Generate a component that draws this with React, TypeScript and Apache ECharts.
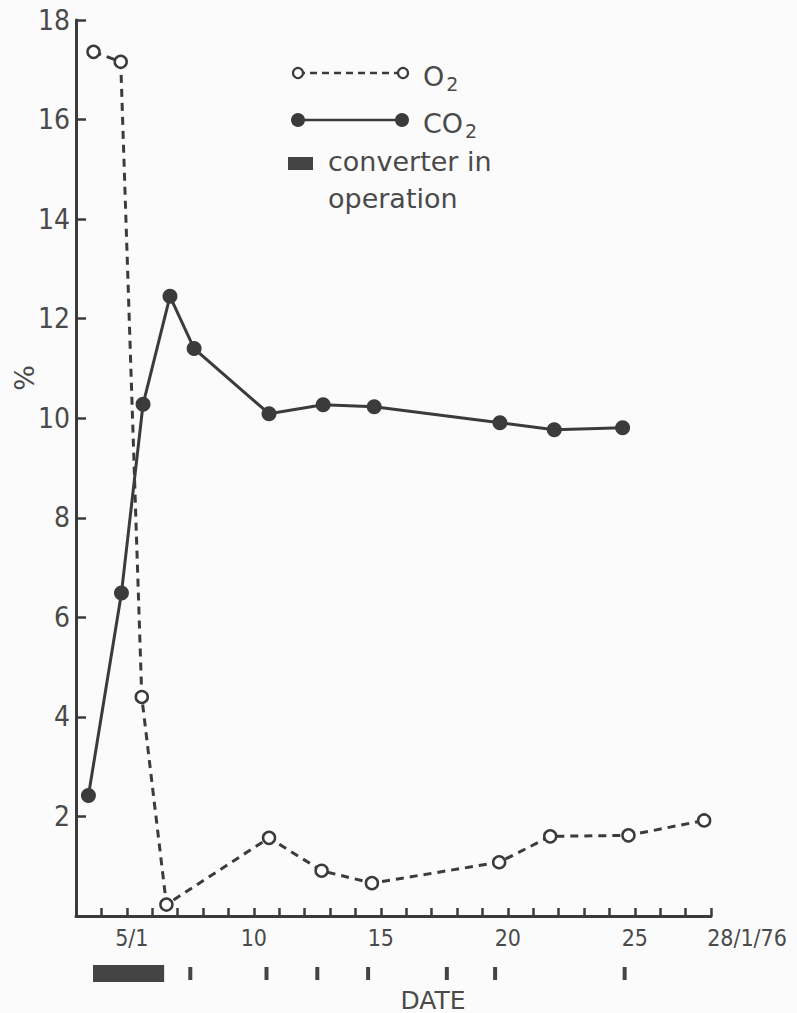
import React, { useEffect, useRef } from "react";
import * as echarts from "echarts";

// O2 (open circles, dashed)
const o2Days = [3.69, 4.76, 5.59, 6.56, 10.6, 12.67, 14.65, 19.66, 21.67, 24.75, 27.73];
const o2Values = [17.36, 17.16, 4.4, 0.23, 1.57, 0.91, 0.66, 1.08, 1.6, 1.62, 1.92];
// CO2 (filled circles, solid)
const co2Days = [3.49, 4.79, 5.64, 6.7, 7.65, 10.6, 12.73, 14.74, 19.69, 21.83, 24.52];
const co2Values = [2.42, 6.49, 10.28, 12.45, 11.4, 10.09, 10.27, 10.23, 9.91, 9.77, 9.81];
// converter in operation (start day, end day)
const converterPeriods = [[3.67, 6.47]];
// small marks below the date axis
const markDays = [7.5, 10.5, 12.5, 14.5, 17.6, 19.5, 24.6];
// tick labels
const xLabels: Record<number, string> = { 5: "5/1", 10: "10", 15: "15", 20: "20", 25: "25", 28: "28/1/76" };
const yTicks = [2, 4, 6, 8, 10, 12, 14, 16, 18];

const INK = "#3b3b3b";
const TXT = "#4a4a4a";
const NUMFONT = '"Liberation Sans Narrow", "DejaVu Sans Condensed", sans-serif';
const TXTFONT = '"DejaVu Sans", sans-serif';

export default function App() {
  const ref = useRef<HTMLDivElement>(null);
  useEffect(() => {
    if (!ref.current) return;
    const chart = echarts.init(ref.current, null, { renderer: "svg" });
    const o2Data = o2Days.map((d, i) => [d, o2Values[i]]);
    const co2Data = co2Days.map((d, i) => [d, co2Values[i]]);
    const option: any = {
      animation: false,
      backgroundColor: "#fbfbfb",
      grid: { left: 76, right: 86, top: 20, bottom: 97 },
      xAxis: {
        type: "value",
        min: 3,
        max: 28,
        interval: 1,
        splitLine: { show: false },
        axisLine: { lineStyle: { color: INK, width: 3 } },
        axisTick: { inside: true, length: 8, lineStyle: { color: INK, width: 2.5 } },
        axisLabel: {
          margin: 10,
          color: TXT,
          fontFamily: NUMFONT,
          fontSize: 23,
          showMinLabel: true,
          showMaxLabel: true,
          formatter: (v: number) => {
            const s = xLabels[Math.round(v)];
            if (!s || Math.abs(v - Math.round(v)) > 1e-6) return "";
            if (Math.round(v) === 28) return "{last|" + s + "}";
            if (Math.round(v) === 5) return "{first|" + s + "}";
            return s;
          },
          rich: {
            last: { fontFamily: NUMFONT, fontSize: 23, color: TXT, padding: [0, 0, 0, 72] },
            first: { fontFamily: NUMFONT, fontSize: 23, color: TXT, padding: [0, 0, 0, 10] },
          },
        },
      },
      yAxis: {
        type: "value",
        min: 0,
        max: 18,
        interval: 2,
        splitLine: { show: false },
        axisLine: { show: true, lineStyle: { color: INK, width: 3 } },
        axisTick: { show: true, inside: true, length: 10, lineStyle: { color: INK, width: 2.5 } },
        axisLabel: {
          margin: 6,
          color: TXT,
          fontFamily: NUMFONT,
          fontSize: 28,
          formatter: (v: number) => (yTicks.indexOf(v) >= 0 ? String(v) : ""),
        },
      },
      series: [
        {
          name: "O2",
          type: "line",
          data: o2Data,
          symbol: "circle",
          symbolSize: 12,
          itemStyle: { color: "#ffffff", borderColor: INK, borderWidth: 2.5 },
          lineStyle: { color: INK, width: 3, type: [8, 6] },
          z: 3,
        },
        {
          name: "CO2",
          type: "line",
          data: co2Data,
          symbol: "circle",
          symbolSize: 15,
          itemStyle: { color: INK, borderWidth: 0 },
          lineStyle: { color: INK, width: 3 },
          z: 4,
        },
        {
          name: "converter in operation",
          type: "custom",
          clip: false,
          data: converterPeriods,
          encode: { x: [0, 1] },
          renderItem: (params: any, api: any) => {
            const a = api.coord([api.value(0), 0]);
            const b = api.coord([api.value(1), 0]);
            return {
              type: "rect",
              shape: { x: a[0], y: a[1] + 49, width: b[0] - a[0], height: 17 },
              style: { fill: "#444444" },
            };
          },
        },
        {
          name: "marks",
          type: "custom",
          clip: false,
          data: markDays.map((d) => [d]),
          encode: { x: 0 },
          renderItem: (params: any, api: any) => {
            const a = api.coord([api.value(0), 0]);
            return {
              type: "rect",
              shape: { x: a[0] - 2, y: a[1] + 51, width: 4, height: 13 },
              style: { fill: "#444444" },
            };
          },
        },
      ],
      graphic: [
        {
          type: "text",
          x: 24,
          y: 378,
          rotation: Math.PI / 2,
          style: { text: "%", fontFamily: TXTFONT, fontSize: 27, fill: TXT, align: "center", verticalAlign: "middle" },
        },
        {
          type: "text",
          x: 433,
          y: 1000,
          style: { text: "DATE", fontFamily: TXTFONT, fontSize: 25, fill: TXT, align: "center", verticalAlign: "middle" },
        },
        // legend: O2
        { type: "line", shape: { x1: 298, y1: 73, x2: 403, y2: 73 }, style: { stroke: INK, lineWidth: 2.5, lineDash: [7, 5] } },
        { type: "circle", shape: { cx: 298, cy: 73, r: 5 }, style: { fill: "#ffffff", stroke: INK, lineWidth: 2.2 } },
        { type: "circle", shape: { cx: 403, cy: 73, r: 5 }, style: { fill: "#ffffff", stroke: INK, lineWidth: 2.2 } },
        {
          type: "text",
          x: 423,
          y: 76,
          style: {
            text: "{m|O}{s|2}",
            verticalAlign: "middle",
            rich: {
              m: { fontFamily: TXTFONT, fontSize: 27, fill: TXT },
              s: { fontFamily: TXTFONT, fontSize: 19, fill: TXT, padding: [16, 0, 0, 2] },
            },
          },
        },
        // legend: CO2
        { type: "line", shape: { x1: 298, y1: 120, x2: 402, y2: 120 }, style: { stroke: INK, lineWidth: 2.5 } },
        { type: "circle", shape: { cx: 298, cy: 120, r: 7 }, style: { fill: INK } },
        { type: "circle", shape: { cx: 402, cy: 120, r: 7 }, style: { fill: INK } },
        {
          type: "text",
          x: 423,
          y: 123,
          style: {
            text: "{m|CO}{s|2}",
            verticalAlign: "middle",
            rich: {
              m: { fontFamily: TXTFONT, fontSize: 27, fill: TXT },
              s: { fontFamily: TXTFONT, fontSize: 19, fill: TXT, padding: [16, 0, 0, 2] },
            },
          },
        },
        // legend: converter
        { type: "rect", shape: { x: 288, y: 157, width: 25, height: 13 }, style: { fill: "#444444" } },
        {
          type: "text",
          x: 328,
          y: 161,
          style: { text: "converter in", fontFamily: TXTFONT, fontSize: 27, fill: TXT, verticalAlign: "middle" },
        },
        {
          type: "text",
          x: 328,
          y: 198,
          style: { text: "operation", fontFamily: TXTFONT, fontSize: 27, fill: TXT, verticalAlign: "middle" },
        },
      ],
    };
    chart.setOption(option);
    return () => chart.dispose();
  }, []);
  return <div ref={ref} style={{ position: "fixed", left: 0, top: 0, width: 797, height: 1013 }} />;
}
